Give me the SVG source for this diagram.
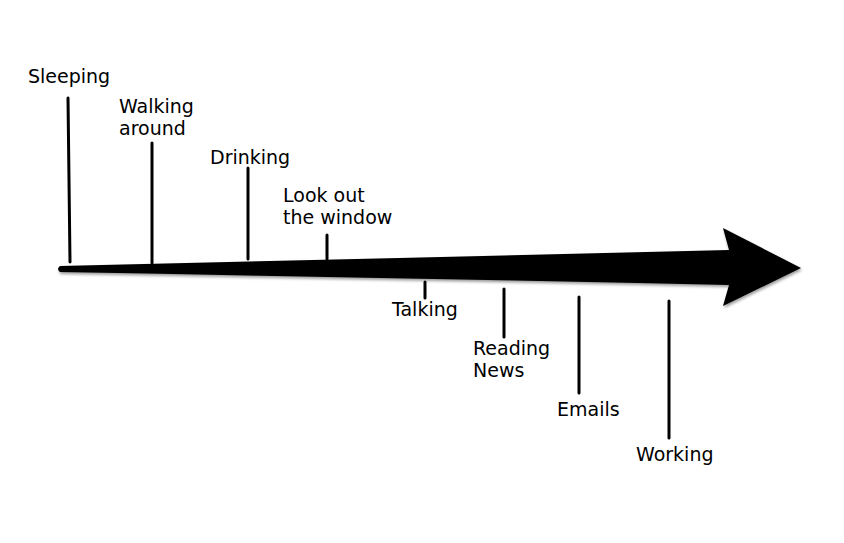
<svg xmlns="http://www.w3.org/2000/svg" width="844" height="543" viewBox="0 0 844 543">
<style>
.lbl{font-family:"DejaVu Sans","Liberation Sans",sans-serif;font-size:19px;fill:#000}
.tick{stroke:#000;stroke-width:3;stroke-linecap:round;fill:none}
</style>
<defs>
<filter id="sh" x="-5%" y="-20%" width="110%" height="140%">
<feGaussianBlur in="SourceAlpha" stdDeviation="1.5"/>
<feOffset dx="1" dy="2" result="b"/>
<feComponentTransfer><feFuncA type="linear" slope="0.4"/></feComponentTransfer>
<feMerge><feMergeNode/><feMergeNode in="SourceGraphic"/></feMerge>
</filter>
</defs>
<rect width="844" height="543" fill="#fff"/>
<g id="connectors">
<path id="timeline" filter="url(#sh)" fill="#000" d="M60,266 Q400,258 729,250 L723,228 L801,268 L723,306 L729,285 Q400,278 60,272 Q56,269 60,266 Z"/>
<line class="tick" x1="68" y1="98" x2="70" y2="262"/>
<line class="tick" x1="152" y1="143" x2="152" y2="263"/>
<line class="tick" x1="248" y1="168" x2="248" y2="259"/>
<line class="tick" x1="327" y1="235" x2="327" y2="259"/>
<line class="tick" x1="425" y1="282" x2="425" y2="298"/>
<line class="tick" x1="504" y1="289" x2="504" y2="337"/>
<line class="tick" x1="579" y1="297" x2="579" y2="393"/>
<line class="tick" x1="669" y1="301" x2="669" y2="438"/>
</g>
<g id="sleeping"><text class="lbl" x="28" y="83">Sleeping</text></g>
<g id="walking"><text class="lbl" x="119" y="113">Walking</text><text class="lbl" x="119" y="135">around</text></g>
<g id="drinking"><text class="lbl" x="210" y="164">Drinking</text></g>
<g id="look"><text class="lbl" x="283" y="202">Look out</text><text class="lbl" x="283" y="224">the window</text></g>
<g id="talking"><text class="lbl" x="392" y="316">Talking</text></g>
<g id="reading"><text class="lbl" x="473" y="355">Reading</text><text class="lbl" x="473" y="377">News</text></g>
<g id="emails"><text class="lbl" x="557" y="416">Emails</text></g>
<g id="working"><text class="lbl" x="636" y="461">Working</text></g>
</svg>
